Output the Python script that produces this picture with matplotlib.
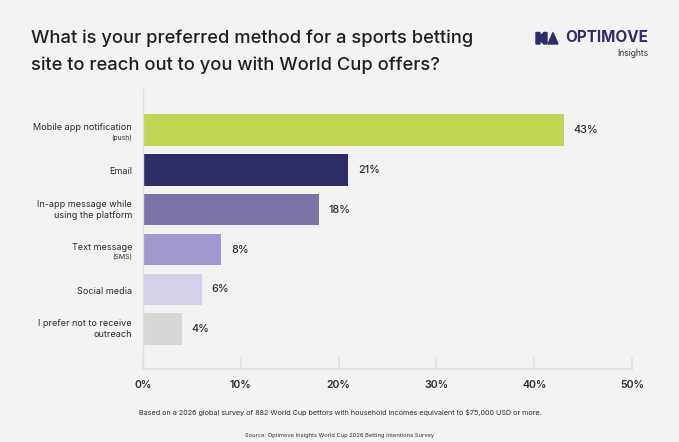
import matplotlib.pyplot as plt
import matplotlib.transforms as mtransforms
from matplotlib.patches import Polygon

plt.rcParams["font.family"] = ["Inter", "DejaVu Sans"]

# data
labels = [
    "Mobile app notification",
    "Email",
    "In-app message while\nusing the platform",
    "Text message",
    "Social media",
    "I prefer not to receive\noutreach",
]
sublabels = ["(push)", "", "", "(SMS)", "", ""]
values = [43, 21, 18, 8, 6, 4]
colors = ["#c3d654", "#2e2c66", "#7b72a8", "#a199cb", "#d3d0e8", "#d6d6d4"]
xticks = [0, 10, 20, 30, 40, 50]

BG = "#f3f3f3"
NAVY = "#2e2c66"
TXT = "#2b2b2b"

fig = plt.figure(figsize=(6.79, 4.42), dpi=100, facecolor=BG)
ax = fig.add_axes([143 / 679, 1 - 369 / 442, 489 / 679, 280 / 442])
ax.set_facecolor(BG)

ypos = list(range(len(values)))
ax.barh(ypos, values, height=0.79, color=colors, zorder=2)
ax.set_xlim(0, 50)
ax.set_ylim(6.0, -1.03)

for y, v in zip(ypos, values):
    ax.annotate(f"{v}%", (v, y), xytext=(7, 0), textcoords="offset points",
                ha="left", va="center", fontsize=7.8, color=TXT, fontweight="medium")

# category labels, with smaller sub-labels under some of them
trans = mtransforms.blended_transform_factory(fig.transFigure, ax.transData)
lx = 132 / 679
for y, lab, sub in zip(ypos, labels, sublabels):
    if sub:
        ax.annotate(lab, (lx, y), xycoords=trans, xytext=(0, 1.5), textcoords="offset points",
                    ha="right", va="center", fontsize=6.5, color=TXT)
        ax.annotate(sub, (lx, y), xycoords=trans, xytext=(0, -5.5), textcoords="offset points",
                    ha="right", va="center", fontsize=4.9, color=TXT)
    else:
        ax.annotate(lab, (lx, y), xycoords=trans, xytext=(0, -1.5 if "\n" not in lab else 0),
                    textcoords="offset points", ha="right", va="center", fontsize=6.5,
                    color=TXT, linespacing=1.25)

ax.set_yticks([])
ax.set_xticks(xticks)
ax.set_xticklabels([f"{t}%" for t in xticks], fontsize=7.6, color=TXT, fontweight="semibold")
ax.tick_params(axis="x", direction="in", length=9, width=1.2, color="#e2e2e2", pad=8)
for side in ["top", "right"]:
    ax.spines[side].set_visible(False)
ax.spines["left"].set_color("#dedede")
ax.spines["left"].set_linewidth(1.0)
ax.spines["bottom"].set_color("#e2e2e2")
ax.spines["bottom"].set_linewidth(1.5)

# title
fig.text(31 / 679, 1 - 38 / 442, "What is your preferred method for a sports betting",
         fontsize=13.2, color="#1f1f1f", va="center", ha="left", fontweight="medium")
fig.text(31 / 679, 1 - 65 / 442, "site to reach out to you with World Cup offers?",
         fontsize=13.2, color="#1f1f1f", va="center", ha="left", fontweight="medium")

# logo
fig.text(648 / 679, 1 - 38 / 442, "OPTIMOVE", fontsize=11, color=NAVY,
         fontweight="bold", ha="right", va="center")
fig.text(648 / 679, 1 - 53 / 442, "Insights", fontsize=6.2, color="#333333",
         ha="right", va="center")
W, H = 679, 442
icon1 = [(536, 32.5), (540, 32.5), (540, 36), (544, 32.5), (547, 32.5), (547, 44), (544, 44),
         (540, 40.5), (540, 44), (536, 44)]
icon2 = [(548, 44), (553, 32.5), (558, 44)]
for pts in (icon1, icon2):
    fig.patches.append(Polygon([(x / W, 1 - y / H) for x, y in pts], closed=True,
                               transform=fig.transFigure, color=NAVY))

# footnotes
fig.text(340 / 679, 1 - 413 / 442,
         "Based on a 2026 global survey of 882 World Cup bettors with household incomes equivalent to $75,000 USD or more.",
         fontsize=5.2, color=TXT, ha="center", va="center")
fig.text(340 / 679, 1 - 436 / 442, "Source: Optimove Insights World Cup 2026 Betting Intentions Survey",
         fontsize=4.1, color=TXT, ha="center", va="center")

fig.savefig("out.png", dpi=100, facecolor=BG)
